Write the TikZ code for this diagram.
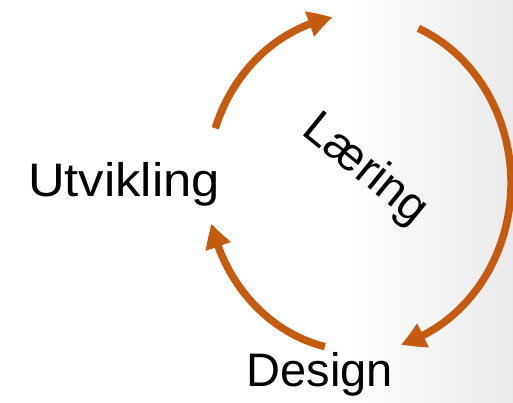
\documentclass[tikz,border=0pt]{standalone}
\usepackage{fontspec}
\setmainfont{Liberation Sans}
\usetikzlibrary{arrows.meta,bending,calc}
\definecolor{arcol}{HTML}{C55A11}
\tikzset{
  cyc/.style={draw=arcol, line width=7.5pt, -{Triangle[length=24pt,width=25pt,bend]}},
  lbl/.style={font=\fontsize{47}{54}\selectfont, text=black, inner sep=0pt}
}
\begin{document}
\begin{tikzpicture}[x=1pt,y=1pt]
\useasboundingbox (0,0) rectangle (513,403);
\fill[white] (0,0) rectangle (513,403);
\shade[left color=white, right color=black!8] (345,0) rectangle (513,403);
\coordinate (c) at (359,220);
\coordinate (s1) at ($(c)+(161:152 and 168)$);
\coordinate (s2) at ($(c)+(67:152 and 168)$);
\coordinate (s3) at ($(c)+(-103:152 and 168)$);
\draw[cyc] (s1) arc[start angle=161, end angle=100, x radius=152, y radius=168];
\draw[cyc] (s2) arc[start angle=67, end angle=-74, x radius=152, y radius=168];
\draw[cyc] (s3) arc[start angle=-103, end angle=-166, x radius=152, y radius=168];
\node[lbl, anchor=base, xscale=1.08] (u) at (124,206) {Utvikling};
\node[lbl, anchor=base] (d) at (320,16) {Design};
\node[lbl, rotate=-39] (l) at (365,233) {Læring};
\end{tikzpicture}
\end{document}
